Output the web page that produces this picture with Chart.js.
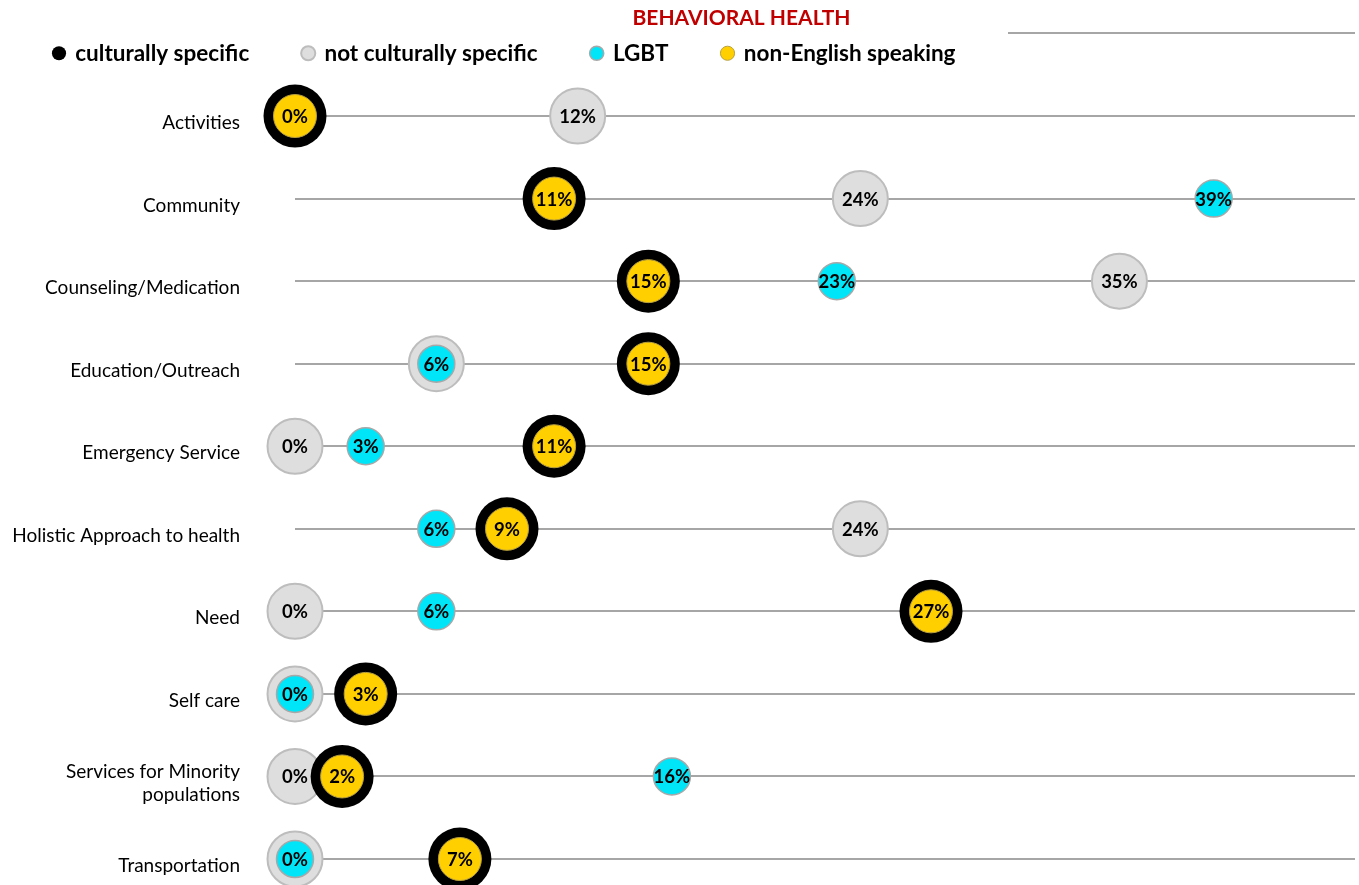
<!DOCTYPE html>
<html>
<head>
<meta charset="utf-8">
<script src="https://cdn.jsdelivr.net/npm/chart.js@4.4.1/dist/chart.umd.min.js"></script>
<style>
  html, body { margin: 0; padding: 0; background: #fff; }
  #wrap { width: 1359px; height: 885px; position: relative; }
</style>
</head>
<body>
<div id="wrap"><canvas id="c"></canvas></div>
<script>
// ---- data ----
const chartTitle = 'BEHAVIORAL HEALTH';
const categories = [
  'Activities', 'Community', 'Counseling/Medication', 'Education/Outreach',
  'Emergency Service', 'Holistic Approach to health', 'Need', 'Self care',
  ['Services for Minority', 'populations'], 'Transportation'
];
const seriesNames = ['culturally specific', 'not culturally specific', 'LGBT', 'non-English speaking'];
const culturallySpecific    = [0, 11, 15, 15, 11, 9, 27, 3, 2, 7];
const notCulturallySpecific = [12, 24, 35, 6, 0, 24, 0, 0, 0, 0];
const lgbt                  = [0, 39, 23, 6, 3, 6, 6, 0, 16, 0];
const nonEnglishSpeaking    = [0, 11, 15, 15, 11, 9, 27, 3, 2, 7];

const FONT = 'Lato, "Open Sans", sans-serif';
const toPoints = arr => arr.map((v, i) => ({ x: v, y: i }));

const headerPlugin = {
  id: 'header',
  afterDraw(chart) {
    const ctx = chart.ctx;
    ctx.save();
    ctx.font = 'bold 21px ' + FONT;
    ctx.fillStyle = '#C00000';
    ctx.textAlign = 'center';
    ctx.textBaseline = 'middle';
    ctx.fillText(chartTitle, chart.width / 2 + 62, 18);
    ctx.strokeStyle = '#A6A6A6';
    ctx.lineWidth = 2;
    ctx.beginPath();
    ctx.moveTo(chart.width - 351, 33);
    ctx.lineTo(chart.chartArea.right, 33);
    ctx.stroke();
    ctx.restore();
  }
};

const valueLabels = {
  id: 'valueLabels',
  afterDatasetsDraw(chart) {
    const ctx = chart.ctx;
    const seen = new Set();
    ctx.save();
    ctx.font = 'bold 18.5px ' + FONT;
    ctx.fillStyle = '#000';
    ctx.textAlign = 'center';
    ctx.textBaseline = 'middle';
    [1, 2, 3].forEach(di => {
      const meta = chart.getDatasetMeta(di);
      const ds = chart.data.datasets[di];
      meta.data.forEach((pt, i) => {
        const key = Math.round(pt.x) + ',' + Math.round(pt.y);
        if (seen.has(key)) return;
        seen.add(key);
        ctx.fillText(ds.data[i].x + '%', pt.x, pt.y + 1);
      });
    });
    ctx.restore();
  }
};

new Chart(document.getElementById('c'), {
  type: 'scatter',
  data: {
    datasets: [
      { label: seriesNames[0], data: toPoints(culturallySpecific), order: 1,
        backgroundColor: '#000000', borderColor: '#000000', borderWidth: 0,
        pointRadius: 31.5, clip: false },
      { label: seriesNames[1], data: toPoints(notCulturallySpecific), order: 3,
        backgroundColor: '#DEDEDE', borderColor: '#BDBDBD', borderWidth: 2,
        pointRadius: 27.5, clip: false },
      { label: seriesNames[2], data: toPoints(lgbt), order: 2,
        backgroundColor: '#00E5F8', borderColor: '#A8A8A8', borderWidth: 1.5,
        pointRadius: 18.5, clip: false },
      { label: seriesNames[3], data: toPoints(nonEnglishSpeaking), order: 0,
        backgroundColor: '#FFCF00', borderColor: '#B8A040', borderWidth: 1,
        pointRadius: 21.5, clip: false }
    ]
  },
  options: {
    responsive: true,
    maintainAspectRatio: false,
    animation: false,
    events: [],
    layout: { autoPadding: false, padding: { top: -12, left: 0, right: 4, bottom: 15 } },
    plugins: {
      title: { display: false },
      tooltip: { enabled: false },
      legend: {
        display: true,
        position: 'top',
        align: 'start',
        labels: {
          usePointStyle: true,
          pointStyle: 'circle',
          boxWidth: 10,
          boxHeight: 10,
          padding: 54,
          color: '#000',
          font: { family: FONT, size: 22.5, weight: 'bold' },
          sort: (a, b) => a.datasetIndex - b.datasetIndex
        }
      }
    },
    scales: {
      x: { type: 'linear', min: 0, max: 45, display: false },
      y: {
        type: 'linear',
        reverse: true,
        min: -0.503,
        max: 9.133,
        afterBuildTicks: scale => { scale.ticks = categories.map((_, i) => ({ value: i })); },
        afterFit: scale => { scale.width = 295; },
        border: { display: false },
        grid: { color: '#A6A6A6', lineWidth: 2, drawTicks: true, tickLength: 55, tickColor: 'rgba(0,0,0,0)' },
        ticks: {
          padding: 0,
          labelOffset: 7,
          color: '#000',
          font: { family: FONT, size: 19 },
          callback: v => categories[v]
        }
      }
    }
  },
  plugins: [headerPlugin, valueLabels]
});
</script>
</body>
</html>
